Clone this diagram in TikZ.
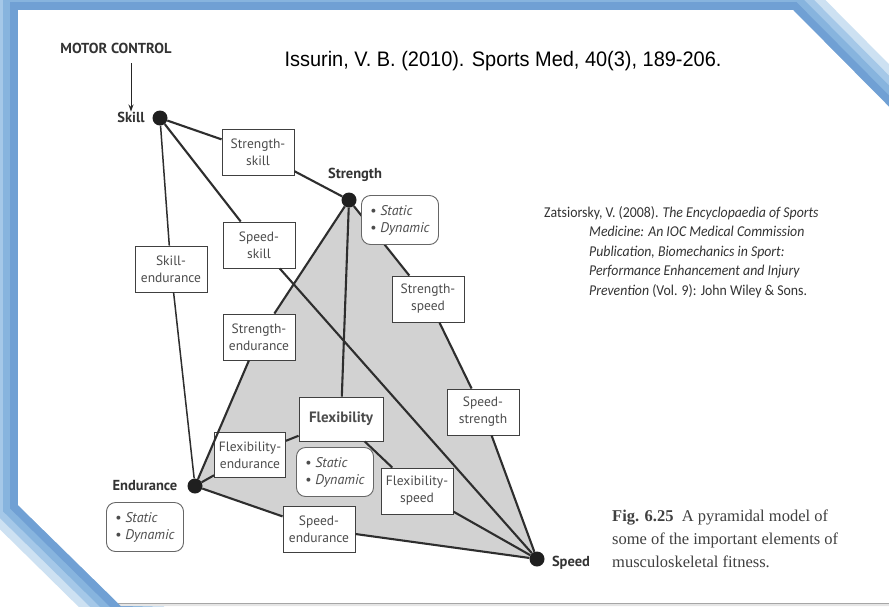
\documentclass[tikz,border=0pt]{standalone}
\usepackage{fontspec}
\setmainfont{PT Sans}
\newfontfamily\citefont[FakeStretch=0.95]{Liberation Sans}
\newfontfamily\zatfont[FakeStretch=0.92]{Carlito}
\newfontfamily\capfont{Liberation Serif}
\usetikzlibrary{arrows.meta,backgrounds}
\definecolor{bandA}{RGB}{205,225,242}
\definecolor{bandB}{RGB}{165,200,232}
\definecolor{bandC}{RGB}{135,180,222}
\definecolor{bandD}{RGB}{112,160,212}
\definecolor{pyramid}{RGB}{210,210,210}

\begin{document}
\begin{tikzpicture}[x=1pt,y=-1pt,
    dot/.style={circle,fill=black!88,inner sep=0pt,minimum size=15pt},
    vertex/.style={font=\fontsize{14.5}{16}\selectfont\bfseries,text=black!80,inner sep=0pt},
    pair/.style={draw=black!75,fill=white,line width=0.9pt,align=center,
        font=\fontsize{13.5}{17}\selectfont,text=black!70,inner sep=2pt,
        minimum width=72pt,minimum height=46pt},
    kind/.style={draw=black!60,fill=white,line width=0.9pt,rounded corners=9pt,
        align=left,font=\fontsize{14}{17}\selectfont,text=black!70,
        minimum width=77pt,minimum height=49pt},
    link/.style={draw=black!82,line width=2.1pt}]
\useasboundingbox (0,0) rectangle (889,606);

% nodes of the pyramid
\node[dot] (skill) at (160,118) {};
\node[dot] (strength) at (349,200) {};
\node[dot] (endurance) at (195,486) {};
\node[dot] (speed) at (537,559) {};

\node[vertex] (motor) at (116,48) {\fontsize{14.5}{16}\selectfont MOTOR CONTROL};
\node[vertex] (skilltxt) at (131,117) {Skill};
\node[vertex] (strengthtxt) at (355,175) {Strength};
\node[vertex] (endurancetxt) at (145,486) {Endurance};
\node[vertex] (speedtxt) at (571,563) {Speed};

\node[pair] (strskill) at (258,152) {Strength-\\skill};
\node[pair] (spdskill) at (259,245) {Speed-\\skill};
\node[pair] (skillend) at (171,269) {Skill-\\endurance};
\node[pair] (strend) at (259,337) {Strength-\\endurance};
\node[pair] (strspd) at (428,299) {Strength-\\speed};
\node[pair] (spdstr) at (483,412) {Speed-\\strength};
\node[pair,minimum width=84pt,minimum height=44pt,font=\fontsize{15}{17}\selectfont\bfseries] (flex) at (341,419) {Flexibility};
\node[pair,minimum width=71pt,minimum height=45pt] (flexend) at (250,455) {Flexibility-\\endurance};
\node[pair] (flexspd) at (417,491) {Flexibility-\\speed};
\node[pair] (spdend) at (319,529) {Speed-\\endurance};

% frame and shaded face
\begin{scope}[on background layer]
    \fill[white] (0,0) rectangle (889,606);
    \begin{scope}
        \clip (0,0) rectangle (889,606);
        \foreach \w/\c in {60/bandA,44/bandB,30/bandC,16/bandD}
            \draw[line width=\w pt,color=\c] (145,630) -- (18,505) -- (18,10) -- (793,10) -- (915,133);
        \fill[white] (18,10) -- (793,10) -- (915,133) -- (915,603) -- (118,603) -- (18,505) -- cycle;
        \fill[black!10] (118,603) -- (889,603) -- (889,606) -- (121,606) -- cycle;
        \draw[black!35,line width=0.8pt] (118,603) -- (889,603);
    \end{scope}
    \fill[pyramid] (strength.center) -- (strspd.center) -- (spdstr.center) -- (speed.center)
        -- (spdend.center) -- (endurance.center) -- (strend.center) -- cycle;
\end{scope}

% edges
\draw[link] (skill) -- (strskill) -- (strength);
\draw[link] (skill) -- (spdskill) -- (speed);
\draw[link,line width=1.5pt] (skill) -- (skillend) -- (endurance);
\draw[link] (strength) -- (strend) -- (endurance);
\draw[link] (strength) -- (strspd) -- (spdstr) -- (speed);
\draw[link] (strength) -- (flex);
\draw[link] (flex) -- (flexend) -- (endurance);
\draw[link] (flex) -- (flexspd) -- (speed);
\draw[link] (endurance) -- (spdend) -- (speed);
\draw[black!85,line width=1pt,-{Stealth[length=7pt,width=5pt]}] (131,63) -- (skilltxt.north);

\node[kind] (strkind) at (400,220) {\textbullet\ \textit{Static}\\\textbullet\ \textit{Dynamic}};
\node[kind] (flexkind) at (335,472) {\textbullet\ \textit{Static}\\\textbullet\ \textit{Dynamic}};
\node[kind] (endkind) at (145,527) {\textbullet\ \textit{Static}\\\textbullet\ \textit{Dynamic}};

% references and caption
\node[font=\citefont\fontsize{21}{24}\selectfont,inner sep=0pt] (issurin) at (503,61)
    {Issurin, V. B. (2010). Sports Med, 40(3), 189-206.};
\node[anchor=north west,align=left,inner sep=0pt,text=black!80,
    font=\zatfont\fontsize{15}{19.5}\selectfont] (zats) at (544,206)
    {Zatsiorsky, V. (2008). \textit{The Encyclopaedia of Sports}\\
     \hspace*{45pt}\textit{Medicine: An IOC Medical Commission}\\
     \hspace*{45pt}\textit{Publication, Biomechanics in Sport:}\\
     \hspace*{45pt}\textit{Performance Enhancement and Injury}\\
     \hspace*{45pt}\textit{Prevention} (Vol. 9): John Wiley \& Sons.};
\node[anchor=north west,align=left,inner sep=0pt,text=black!75,
    font=\capfont\fontsize{16.5}{23}\selectfont] (caption) at (612,510)
    {\textbf{Fig. 6.25}\ \ A pyramidal model of\\
     some of the important elements of\\
     musculoskeletal fitness.};
\end{tikzpicture}
\end{document}
